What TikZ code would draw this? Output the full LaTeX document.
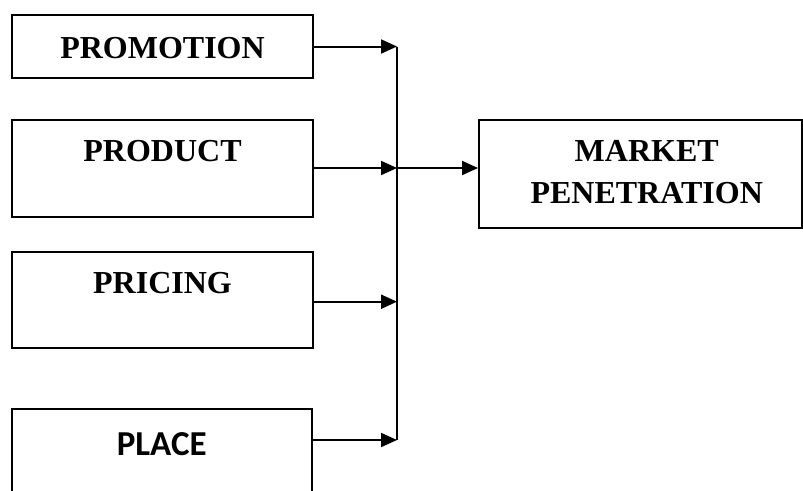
\documentclass[tikz,border=0pt]{standalone}
\usepackage{fontspec}
\setmainfont{Liberation Serif}
\newfontfamily\placefont{Carlito}
\usetikzlibrary{arrows.meta}
\begin{document}
\begin{tikzpicture}[x=1pt,y=-1pt,
  box/.style={draw=black,line width=2pt,rectangle,inner sep=0pt},
  lbl/.style={font=\fontsize{32}{41.6}\selectfont\bfseries,anchor=base,inner sep=0pt},
  arr/.style={line width=2pt,-{Triangle[length=16pt,width=14pt]}},
  line/.style={line width=2pt}]
\useasboundingbox (0,0) rectangle (803,490);
\clip (0,0) rectangle (803,490);
% boxes
\node[box,minimum width=301pt,minimum height=63pt] (promo) at (162.5,46.5) {};
\node[box,minimum width=301pt,minimum height=96.7pt] (prod) at (162.5,168.3) {};
\node[box,minimum width=301pt,minimum height=96pt] (price) at (162.5,300) {};
\node[box,minimum width=300pt,minimum height=100pt] (place) at (162,459) {};
\node[box,minimum width=323pt,minimum height=107.7pt] (market) at (640.5,173.8) {};
% labels
\node[lbl] (tpromo) at (162.5,58.3) {PROMOTION};
\node[lbl] (tprod) at (162.5,161.7) {PRODUCT};
\node[lbl] (tprice) at (162.5,293.3) {PRICING};
\node[lbl,font=\fontsize{35}{40}\selectfont\placefont\bfseries] (tplace) at (161.7,455) {PLACE};
\node[lbl] (tm1) at (646.7,161.7) {MARKET};
\node[lbl] (tm2) at (646.7,203.3) {PENETRATION};
% junctions
\coordinate (j1) at (397,46.5);
\coordinate (j2) at (397,168);
\coordinate (j3) at (397,301.7);
\coordinate (j4) at (397,440);
\draw[line] (j1) -- (j4);
\draw[arr] (promo.east) -- (j1);
\draw[arr] (prod.east |- j2) -- (j2);
\draw[arr] (price.east |- j3) -- (j3);
\draw[arr] (place.east |- j4) -- (j4);
\draw[arr] (j2) -- (market.west |- j2);
\end{tikzpicture}
\end{document}
